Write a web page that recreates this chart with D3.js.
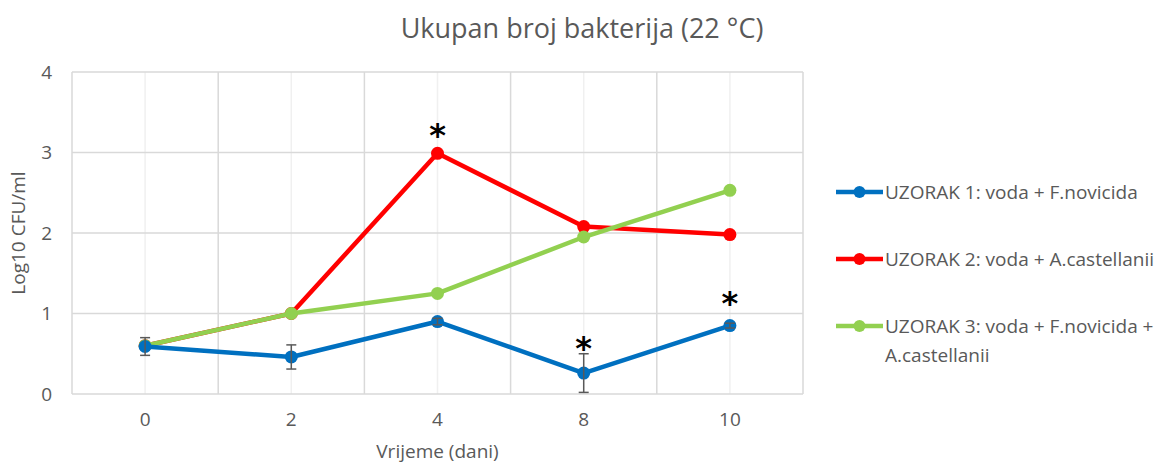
<!DOCTYPE html>
<html>
<head>
<meta charset="utf-8">
<script src="https://cdn.jsdelivr.net/npm/d3@7"></script>
<style>
  body { margin: 0; background: #fff; }
  text { font-family: "Open Sans", "Noto Sans", sans-serif; fill: #595959; }
</style>
</head>
<body>
<script>
var width = 1166;
var height = 468;

// data
var days = ["0", "2", "4", "8", "10"];
var seriesNames = [
  "UZORAK 1: voda + F.novicida",
  "UZORAK 2: voda + A.castellanii",
  "UZORAK 3: voda + F.novicida + A.castellanii"
];
var sample1 = [0.59, 0.46, 0.90, 0.26, 0.85];
var sample1Err = [0.11, 0.15, 0.04, 0.24, 0.03];
var sample2 = [0.60, 1.00, 2.99, 2.08, 1.98];
var sample3 = [0.60, 1.00, 1.25, 1.95, 2.53];
var yTicks = [0, 1, 2, 3, 4];
// asterisks: category and level (log10 units)
var starDays = ["4", "8", "10"];
var starLevels = [3.28, 0.63, 1.19];

var colors = ["#0070c0", "#ff0000", "#92d050"];
var seriesValues = [sample1, sample2, sample3];

var margin = {left: 72, right: 363, top: 72, bottom: 74};

var svg = d3.select('body').append('svg')
  .attr('width', width).attr('height', height);

var x = d3.scaleBand().domain(days)
  .range([margin.left, width - margin.right]).paddingInner(0).paddingOuter(0);
var y = d3.scaleLinear().domain([0, 4])
  .range([height - margin.bottom, margin.top]);

var cx = function(d) { return x(d) + x.bandwidth() / 2; };

// minor vertical grid at category centres
svg.append('g').selectAll('line').data(days).enter().append('line')
  .attr('x1', cx).attr('x2', cx)
  .attr('y1', y(0)).attr('y2', y(4))
  .style('stroke', '#f0f0f0').style('stroke-width', 1.5);

// major vertical grid at band edges
var edges = days.map(function(d) { return x(d); }).concat([x.range()[1]]);
svg.append('g').selectAll('line').data(edges).enter().append('line')
  .attr('x1', function(d) { return d; }).attr('x2', function(d) { return d; })
  .attr('y1', y(0)).attr('y2', y(4))
  .style('stroke', '#d9d9d9').style('stroke-width', 1.5);

// horizontal grid
svg.append('g').selectAll('line').data(yTicks).enter().append('line')
  .attr('x1', x.range()[0]).attr('x2', x.range()[1])
  .attr('y1', function(d) { return y(d); }).attr('y2', function(d) { return y(d); })
  .style('stroke', '#d9d9d9').style('stroke-width', 1.5);

// axes (labels only)
var yAxis = svg.append('g').attr('transform', 'translate(' + (margin.left - 12) + ',0)')
  .call(d3.axisLeft(y).tickValues(yTicks).tickFormat(d3.format('d')).tickSize(0).tickPadding(8));
yAxis.select('.domain').remove();
yAxis.selectAll('text').style('font-size', '19px').style('fill', '#595959')
  .style('font-family', '"Open Sans", sans-serif');

var xAxis = svg.append('g').attr('transform', 'translate(0,' + (y(0) + 18) + ')')
  .call(d3.axisBottom(x).tickSize(0).tickPadding(0));
xAxis.select('.domain').remove();
xAxis.selectAll('text').style('font-size', '19px').style('fill', '#595959')
  .style('font-family', '"Open Sans", sans-serif');

// error bars for sample 1
var errG = svg.append('g');
var errData = days.map(function(d, i) { return {day: d, v: sample1[i], e: sample1Err[i]}; });
errG.selectAll('line.v').data(errData).enter().append('line')
  .attr('x1', function(d) { return cx(d.day); }).attr('x2', function(d) { return cx(d.day); })
  .attr('y1', function(d) { return y(d.v - d.e); }).attr('y2', function(d) { return y(d.v + d.e); })
  .style('stroke', '#595959').style('stroke-width', 1.5);
[-1, 1].forEach(function(s) {
  errG.selectAll('line.c' + s).data(errData).enter().append('line')
    .attr('x1', function(d) { return cx(d.day) - 5; }).attr('x2', function(d) { return cx(d.day) + 5; })
    .attr('y1', function(d) { return y(d.v + s * d.e); }).attr('y2', function(d) { return y(d.v + s * d.e); })
    .style('stroke', '#595959').style('stroke-width', 1.5);
});

// lines and markers, sample 1 drawn last so it sits on top
var line = d3.line().x(function(d) { return cx(d.day); }).y(function(d) { return y(d.v); });
var order = [1, 2, 0];
order.forEach(function(si) {
  var pts = days.map(function(d, i) { return {day: d, v: seriesValues[si][i]}; });
  svg.append('path').datum(pts).attr('d', line)
    .style('fill', 'none').style('stroke', colors[si]).style('stroke-width', 4.5)
    .style('stroke-linejoin', 'round');
  svg.append('g').selectAll('circle').data(pts).enter().append('circle')
    .attr('cx', function(d) { return cx(d.day); })
    .attr('cy', function(d) { return y(d.v); })
    .attr('r', 6.5).style('fill', colors[si]);
});

// error bars over the blue series
errG.raise();

// significance asterisks
svg.append('g').selectAll('text').data(starDays).enter().append('text')
  .attr('x', cx)
  .attr('y', function(d, i) { return y(starLevels[i]) + 16; })
  .attr('text-anchor', 'middle')
  .style('font-family', '"DejaVu Sans", sans-serif')
  .style('font-size', '32px').style('font-weight', 'bold').style('fill', '#000')
  .text('*');

// title
svg.append('text').attr('x', 582).attr('y', 38).attr('text-anchor', 'middle')
  .style('font-size', '27px').text('Ukupan broj bakterija (22 °C)');

// axis titles
svg.append('text').attr('x', x.range()[0] + (x.range()[1] - x.range()[0]) / 2)
  .attr('y', 458).attr('text-anchor', 'middle')
  .style('font-size', '19px').text('Vrijeme (dani)');
svg.append('text').attr('transform', 'translate(25,' + y(2) + ') rotate(-90)')
  .attr('text-anchor', 'middle')
  .style('font-size', '19px').text('Log10 CFU/ml');

// legend
var legendRows = [
  {lines: [seriesNames[0]], y: 192},
  {lines: [seriesNames[1]], y: 259},
  {lines: ["UZORAK 3: voda + F.novicida +", "A.castellanii"], y: 326}
];
var legend = svg.append('g').selectAll('g').data(legendRows).enter().append('g')
  .attr('transform', function(d) { return 'translate(836,' + d.y + ')'; });
legend.append('line').attr('x1', 0).attr('x2', 47).attr('y1', 0).attr('y2', 0)
  .style('stroke', function(d, i) { return colors[i]; }).style('stroke-width', 4.5);
legend.append('circle').attr('cx', 23.5).attr('cy', 0).attr('r', 6)
  .style('fill', function(d, i) { return colors[i]; });
legend.each(function(d) {
  var g = d3.select(this);
  d.lines.forEach(function(t, k) {
    g.append('text').attr('x', 49).attr('y', 7 + k * 29)
      .style('font-size', '19px').text(t);
  });
});
</script>
</body>
</html>
